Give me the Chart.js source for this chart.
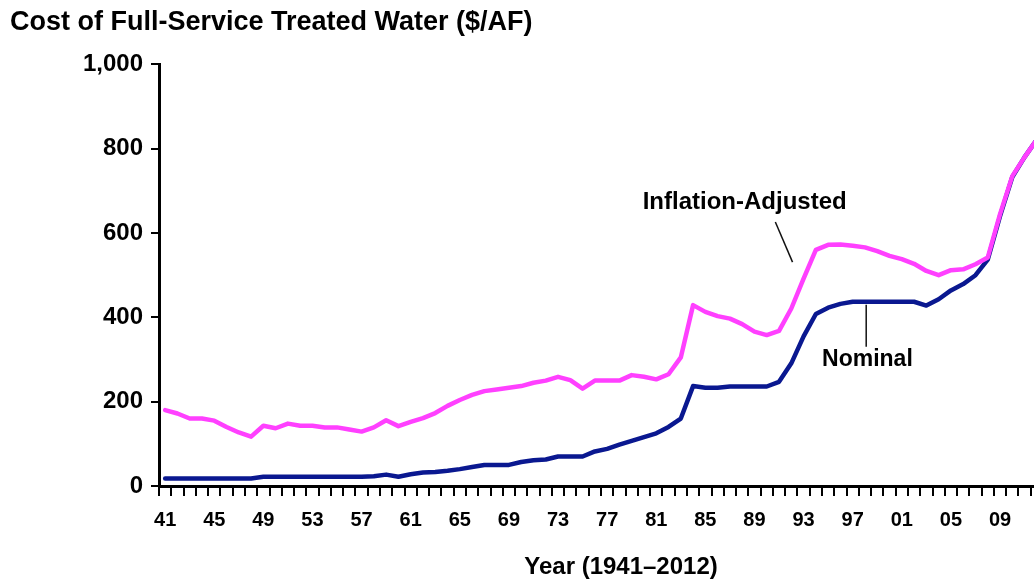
<!DOCTYPE html>
<html>
<head>
<meta charset="utf-8">
<title>Cost of Full-Service Treated Water</title>
<script src="https://cdn.jsdelivr.net/npm/chart.js@4.4.1/dist/chart.umd.min.js"></script>
<style>
  html, body { margin: 0; padding: 0; background: #fff; overflow: hidden; }
  #wrap { position: relative; width: 1050px; height: 581px; }
</style>
</head>
<body>
<div id="wrap"><canvas id="chart"></canvas></div>
<script>
// ---------- Data ----------
var years = [
  '1941','1942','1943','1944','1945','1946','1947','1948','1949','1950',
  '1951','1952','1953','1954','1955','1956','1957','1958','1959','1960',
  '1961','1962','1963','1964','1965','1966','1967','1968','1969','1970',
  '1971','1972','1973','1974','1975','1976','1977','1978','1979','1980',
  '1981','1982','1983','1984','1985','1986','1987','1988','1989','1990',
  '1991','1992','1993','1994','1995','1996','1997','1998','1999','2000',
  '2001','2002','2003','2004','2005','2006','2007','2008','2009','2010',
  '2011','2012'
];

// $/AF, adjusted for inflation
var inflationAdjusted = [
  180, 172, 160, 160, 155, 140, 127, 117, 143, 137,
  148, 143, 143, 139, 139, 134, 129, 139, 156, 142,
  152, 161, 173, 190, 204, 216, 225, 229, 233, 237,
  245, 250, 259, 251, 231, 250, 250, 250, 263, 259,
  253, 265, 305, 429, 413, 403, 397, 384, 366, 358,
  368, 421, 492, 560, 572, 573, 570, 566, 557, 546,
  538, 527, 510, 500, 512, 514, 526, 542, 645, 735,
  780, 822
];

// $/AF, nominal
var nominal = [
   18,  18,  18,  18,  18,  18,  18,  18,  22,  22,
   22,  22,  22,  22,  22,  22,  22,  23,  27,  22,
   28,  32,  33,  36,  40,  45,  50,  50,  50,  57,
   61,  63,  70,  70,  70,  82,  88,  98, 107, 116,
  125, 140, 160, 237, 233, 233, 236, 236, 236, 236,
  247, 291, 355, 408, 423, 432, 437, 437, 437, 437,
  437, 437, 428, 443, 464, 479, 500, 537, 640, 733,
  780, 822
];

var xTickYears = ['1941','1945','1949','1953','1957','1961','1965','1969','1973',
                  '1977','1981','1985','1989','1993','1997','2001','2005','2009'];
var yTicks = [0, 200, 400, 600, 800, 1000];

// ---------- Styling ----------
var FONT = "'Liberation Sans', Arial, sans-serif";
var pink = '#ff40ff';
var navy = '#0a1890';
var ink  = '#000000';

// labels drawn next to the lines (positions in data space: category index, $/AF)
var notes = [
  { text: 'Inflation-Adjusted', size: 24, x: 47.2, y: 673, line: [49.7, 626, 51.1, 531] },
  { text: 'Nominal',            size: 23, x: 57.2, y: 299, line: [57.1, 430, 57.1, 330] }
];

var notesPlugin = {
  id: 'notes',
  afterDatasetsDraw: function (chart) {
    var ctx = chart.ctx, xs = chart.scales.x, ys = chart.scales.y;
    ctx.save();
    ctx.fillStyle = ink;
    ctx.strokeStyle = '#111';
    ctx.lineWidth = 1.5;
    ctx.textAlign = 'center';
    ctx.textBaseline = 'middle';
    notes.forEach(function (n) {
      ctx.beginPath();
      ctx.moveTo(xs.getPixelForValue(n.line[0]), ys.getPixelForValue(n.line[1]));
      ctx.lineTo(xs.getPixelForValue(n.line[2]), ys.getPixelForValue(n.line[3]));
      ctx.stroke();
      ctx.font = 'bold ' + n.size + 'px ' + FONT;
      ctx.fillText(n.text, xs.getPixelForValue(n.x), ys.getPixelForValue(n.y));
    });
    // x-axis title (sits right of the axis centre in the original)
    ctx.font = 'bold 24px ' + FONT;
    ctx.fillText('Year (1941\u20132012)', chart.chartArea.left + 462, 567);
    ctx.restore();
  }
};

new Chart(document.getElementById('chart'), {
  type: 'line',
  data: {
    labels: years,
    datasets: [
      { label: 'Inflation-Adjusted', data: inflationAdjusted, borderColor: pink, borderWidth: 4.5,
        pointRadius: 0, tension: 0, fill: false, borderJoinStyle: 'round', borderCapStyle: 'round' },
      { label: 'Nominal', data: nominal, borderColor: navy, borderWidth: 4.5,
        pointRadius: 0, tension: 0, fill: false, borderJoinStyle: 'round', borderCapStyle: 'round' }
    ]
  },
  options: {
    responsive: true,
    maintainAspectRatio: false,
    animation: false,
    events: [],
    layout: { padding: { left: 10, right: 7, top: 0, bottom: 0 } },
    plugins: {
      legend: { display: false },
      tooltip: { enabled: false },
      title: {
        display: true,
        text: 'Cost of Full-Service Treated Water ($/AF)',
        align: 'start',
        color: ink,
        font: { family: FONT, size: 27, weight: 'bold' },
        padding: { top: 6, bottom: 26 }
      }
    },
    scales: {
      x: {
        offset: true,
        grid: { offset: true, drawOnChartArea: false, drawTicks: true, tickLength: 10, color: ink, lineWidth: 2 },
        border: { color: ink, width: 3 },
        ticks: {
          autoSkip: false, maxRotation: 0, padding: 12, color: ink,
          font: { family: FONT, size: 20, weight: 'bold' },
          callback: function (v, i) {
            var y = years[i];
            return xTickYears.indexOf(y) >= 0 ? y.slice(2) : '';
          }
        },
        afterFit: function (s) { s.height = 95; }
      },
      y: {
        min: yTicks[0],
        max: yTicks[yTicks.length - 1],
        afterBuildTicks: function (s) { s.ticks = yTicks.map(function (v) { return { value: v }; }); },
        grid: { drawOnChartArea: false, drawTicks: true, tickLength: 8, color: ink, lineWidth: 2 },
        border: { color: ink, width: 3 },
        ticks: {
          padding: 8, color: ink,
          font: { family: FONT, size: 24, weight: 'bold' },
          callback: function (v) { return v.toLocaleString('en-US'); }
        },
        afterFit: function (s) { s.width = 149; }
      }
    }
  },
  plugins: [notesPlugin]
});
</script>
</body>
</html>
